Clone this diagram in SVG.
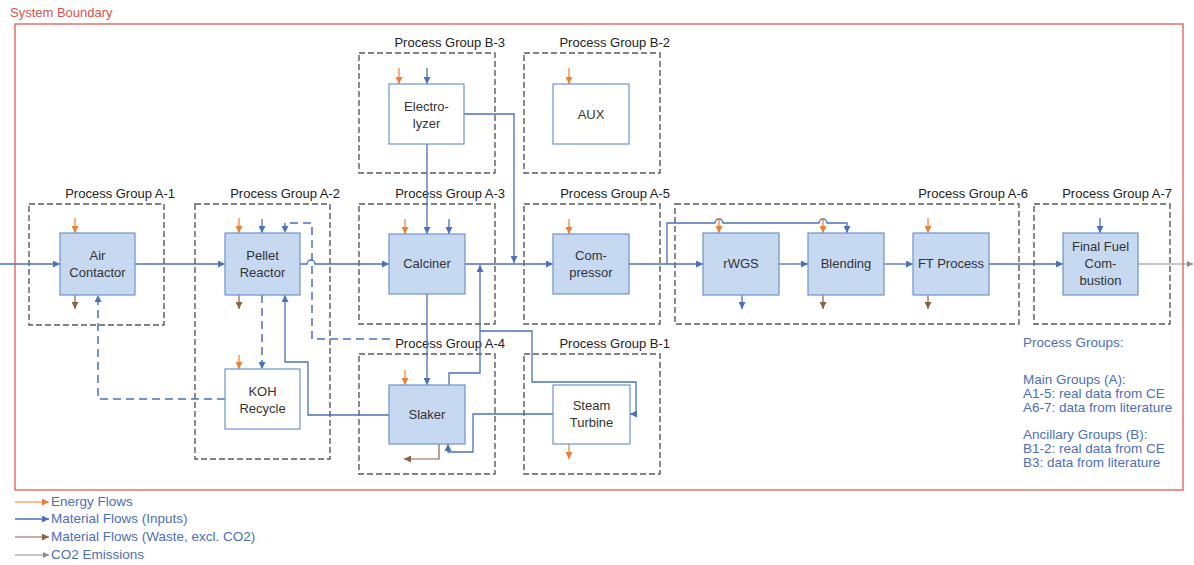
<svg xmlns="http://www.w3.org/2000/svg" width="1194" height="565" viewBox="0 0 1194 565">
<style>
text{font-family:"Liberation Sans",Arial,sans-serif}
.pg{fill:none;stroke:#5a5a5a;stroke-width:1.4;stroke-dasharray:6 3}
.pgl{font-size:13px;fill:#222;text-anchor:end}
.nb{fill:#c6d9f1;stroke:#6f93cc;stroke-width:1.2}
.nw{fill:#ffffff;stroke:#6f93cc;stroke-width:1.2}
.nt{font-size:13px;fill:#333;text-anchor:middle}
.b{fill:none;stroke:#4a72b8;stroke-width:1.3}
.bd{fill:none;stroke:#4a72b8;stroke-width:1.5;stroke-dasharray:8 5}
.o{fill:none;stroke:#ed7d31;stroke-width:1.2}
.br{fill:none;stroke:#8a6440;stroke-width:1.2}
.g{fill:none;stroke:#8c8c8c;stroke-width:1.2}
.lt{font-size:13.5px;fill:#4e6fb5}
</style>
<defs>
<marker id="ab" viewBox="0 0 8 8" refX="8" refY="4" markerWidth="7" markerHeight="7" orient="auto" markerUnits="userSpaceOnUse"><path d="M0,0 L8,4 L0,8 z" fill="#4a72b8"/></marker>
<marker id="ao" viewBox="0 0 8 8" refX="8" refY="4" markerWidth="7" markerHeight="7" orient="auto" markerUnits="userSpaceOnUse"><path d="M0,0 L8,4 L0,8 z" fill="#ed7d31"/></marker>
<marker id="abr" viewBox="0 0 8 8" refX="8" refY="4" markerWidth="7" markerHeight="7" orient="auto" markerUnits="userSpaceOnUse"><path d="M0,0 L8,4 L0,8 z" fill="#8a6440"/></marker>
<marker id="ag" viewBox="0 0 8 8" refX="8" refY="4" markerWidth="6" markerHeight="6" orient="auto" markerUnits="userSpaceOnUse"><path d="M0,0 L8,4 L0,8 z" fill="#8c8c8c"/></marker>
</defs>
<rect width="1194" height="565" fill="#ffffff"/>

<g id="system-boundary">
<rect x="15" y="24" width="1168" height="466" fill="none" stroke="#e06666" stroke-width="1.4"/>
<text x="10" y="17" font-size="13px" fill="#d9534f">System Boundary</text>
</g>

<g id="process-groups">
<g id="pg-a1"><rect class="pg" x="29" y="204" width="135" height="121"/><text class="pgl" x="175" y="198">Process Group A-1</text></g>
<g id="pg-a2"><rect class="pg" x="195" y="204" width="135" height="255"/><text class="pgl" x="340" y="198">Process Group A-2</text></g>
<g id="pg-a3"><rect class="pg" x="359" y="204" width="136" height="120"/><text class="pgl" x="505" y="198">Process Group A-3</text></g>
<g id="pg-a4"><rect class="pg" x="359" y="354" width="136" height="120"/><text class="pgl" x="505" y="348">Process Group A-4</text></g>
<g id="pg-a5"><rect class="pg" x="524" y="204" width="136" height="120"/><text class="pgl" x="670" y="198">Process Group A-5</text></g>
<g id="pg-a6"><rect class="pg" x="675" y="204" width="344" height="120"/><text class="pgl" x="1028" y="198">Process Group A-6</text></g>
<g id="pg-a7"><rect class="pg" x="1034" y="204" width="136" height="120"/><text class="pgl" x="1172" y="198">Process Group A-7</text></g>
<g id="pg-b1"><rect class="pg" x="524" y="354" width="136" height="120"/><text class="pgl" x="670" y="348">Process Group B-1</text></g>
<g id="pg-b2"><rect class="pg" x="524" y="53" width="136" height="120"/><text class="pgl" x="670" y="47">Process Group B-2</text></g>
<g id="pg-b3"><rect class="pg" x="359" y="53" width="136" height="120"/><text class="pgl" x="505" y="47">Process Group B-3</text></g>
</g>

<g id="connectors">
<path class="b" d="M0,264 H60" marker-end="url(#ab)"/>
<path class="b" d="M135,264 H225" marker-end="url(#ab)"/>
<path class="b" d="M300,264 H307 a4,4 0 0 1 8,0 H389" marker-end="url(#ab)"/>
<path class="b" d="M465,264 H553" marker-end="url(#ab)"/>
<path class="b" d="M629,264 H703" marker-end="url(#ab)"/>
<path class="b" d="M779,264 H808" marker-end="url(#ab)"/>
<path class="b" d="M884,264 H913" marker-end="url(#ab)"/>
<path class="b" d="M989,264 H1063" marker-end="url(#ab)"/>
<path class="g" d="M1138,264 H1193" marker-end="url(#ag)"/>
<path class="b" d="M667,264 V223 H715 a4,4 0 0 1 8,0 H819 a4,4 0 0 1 8,0 H847 V233" marker-end="url(#ab)"/>
<path class="b" d="M427,144 V234" marker-end="url(#ab)"/>
<path class="b" d="M464,114 H514 V263" marker-end="url(#ab)"/>
<path class="b" d="M427,294 V385" marker-end="url(#ab)"/>
<path class="b" d="M449,385 V373 H480 V265" marker-end="url(#ab)"/>
<path class="b" d="M480,331 H532 V382 H636 V414 H630" marker-end="url(#ab)"/>
<path class="b" d="M553,414 H473 V452 H448 V444" marker-end="url(#ab)"/>
<path class="b" d="M389,415 H308 V362 H285 V295" marker-end="url(#ab)"/>
<path class="bd" d="M225,399 H98 V295" marker-end="url(#ab)"/>
<path class="bd" d="M262,295 V369" marker-end="url(#ab)"/>
<path class="bd" d="M390,339 H312 V223 H285 V233" marker-end="url(#ab)"/>
<path class="b" d="M262,219 V233" marker-end="url(#ab)"/>
<path class="b" d="M449,219 V234" marker-end="url(#ab)"/>
<path class="b" d="M427,68 V84" marker-end="url(#ab)"/>
<path class="b" d="M1100,218 V233" marker-end="url(#ab)"/>
<path class="b" d="M742,295 V309" marker-end="url(#ab)"/>
<path class="o" d="M75,218 V233" marker-end="url(#ao)"/>
<path class="o" d="M239,218 V233" marker-end="url(#ao)"/>
<path class="o" d="M239,355 V369" marker-end="url(#ao)"/>
<path class="o" d="M405,219 V234" marker-end="url(#ao)"/>
<path class="o" d="M405,370 V385" marker-end="url(#ao)"/>
<path class="o" d="M399,68 V84" marker-end="url(#ao)"/>
<path class="o" d="M569,68 V84" marker-end="url(#ao)"/>
<path class="o" d="M569,219 V234" marker-end="url(#ao)"/>
<path class="o" d="M569,444 V459" marker-end="url(#ao)"/>
<path class="o" d="M719,218 V233" marker-end="url(#ao)"/>
<path class="o" d="M823,218 V233" marker-end="url(#ao)"/>
<path class="o" d="M928,218 V233" marker-end="url(#ao)"/>
<path class="br" d="M75,295 V309" marker-end="url(#abr)"/>
<path class="br" d="M239,295 V309" marker-end="url(#abr)"/>
<path class="br" d="M823,295 V309" marker-end="url(#abr)"/>
<path class="br" d="M928,295 V309" marker-end="url(#abr)"/>
<path class="br" d="M439,444 V459 H404" marker-end="url(#abr)"/>
</g>

<g id="air-contactor"><rect class="nb" x="60" y="233" width="75" height="62"/><text class="nt" x="97.5" y="260">Air</text><text class="nt" x="97.5" y="277">Contactor</text></g>
<g id="pellet-reactor"><rect class="nb" x="225" y="233" width="75" height="62"/><text class="nt" x="262.5" y="260">Pellet</text><text class="nt" x="262.5" y="277">Reactor</text></g>
<g id="koh-recycle"><rect class="nw" x="225" y="369" width="75" height="60"/><text class="nt" x="262.5" y="396">KOH</text><text class="nt" x="262.5" y="413">Recycle</text></g>
<g id="calciner"><rect class="nb" x="389" y="234" width="76" height="60"/><text class="nt" x="427" y="268">Calciner</text></g>
<g id="slaker"><rect class="nb" x="389" y="385" width="76" height="59"/><text class="nt" x="427" y="419">Slaker</text></g>
<g id="electrolyzer"><rect class="nw" x="389" y="84" width="75" height="60"/><text class="nt" x="426.5" y="111">Electro-</text><text class="nt" x="426.5" y="128">lyzer</text></g>
<g id="aux"><rect class="nw" x="553" y="84" width="76" height="60"/><text class="nt" x="591" y="119">AUX</text></g>
<g id="compressor"><rect class="nb" x="553" y="234" width="76" height="60"/><text class="nt" x="591" y="260">Com-</text><text class="nt" x="591" y="277">pressor</text></g>
<g id="steam-turbine"><rect class="nw" x="553" y="385" width="77" height="59"/><text class="nt" x="591.5" y="410">Steam</text><text class="nt" x="591.5" y="427">Turbine</text></g>
<g id="rwgs"><rect class="nb" x="703" y="233" width="76" height="62"/><text class="nt" x="741" y="268">rWGS</text></g>
<g id="blending"><rect class="nb" x="808" y="233" width="76" height="62"/><text class="nt" x="846" y="268">Blending</text></g>
<g id="ft-process"><rect class="nb" x="913" y="233" width="76" height="62"/><text class="nt" x="951" y="268">FT Process</text></g>
<g id="final-fuel-combustion"><rect class="nb" x="1063" y="233" width="75" height="62"/><text class="nt" x="1100.5" y="251">Final Fuel</text><text class="nt" x="1100.5" y="268">Com-</text><text class="nt" x="1100.5" y="285">bustion</text></g>

<g id="group-legend">
<text class="lt" x="1023" y="347">Process Groups:</text>
<text class="lt" x="1023" y="384">Main Groups (A):</text>
<text class="lt" x="1023" y="398">A1-5: real data from CE</text>
<text class="lt" x="1023" y="412">A6-7: data from literature</text>
<text class="lt" x="1023" y="439">Ancillary Groups (B):</text>
<text class="lt" x="1023" y="453">B1-2: real data from CE</text>
<text class="lt" x="1023" y="467">B3: data from literature</text>
</g>

<g id="flow-legend">
<path class="o" d="M15,502 H49" marker-end="url(#ao)"/>
<text class="lt" x="51" y="506">Energy Flows</text>
<path class="b" d="M15,519 H49" marker-end="url(#ab)"/>
<text class="lt" x="51" y="523">Material Flows (Inputs)</text>
<path class="br" d="M15,537 H49" marker-end="url(#abr)"/>
<text class="lt" x="51" y="541">Material Flows (Waste, excl. CO2)</text>
<path class="g" d="M15,555 H49" marker-end="url(#ag)"/>
<text class="lt" x="51" y="559">CO2 Emissions</text>
</g>
</svg>
